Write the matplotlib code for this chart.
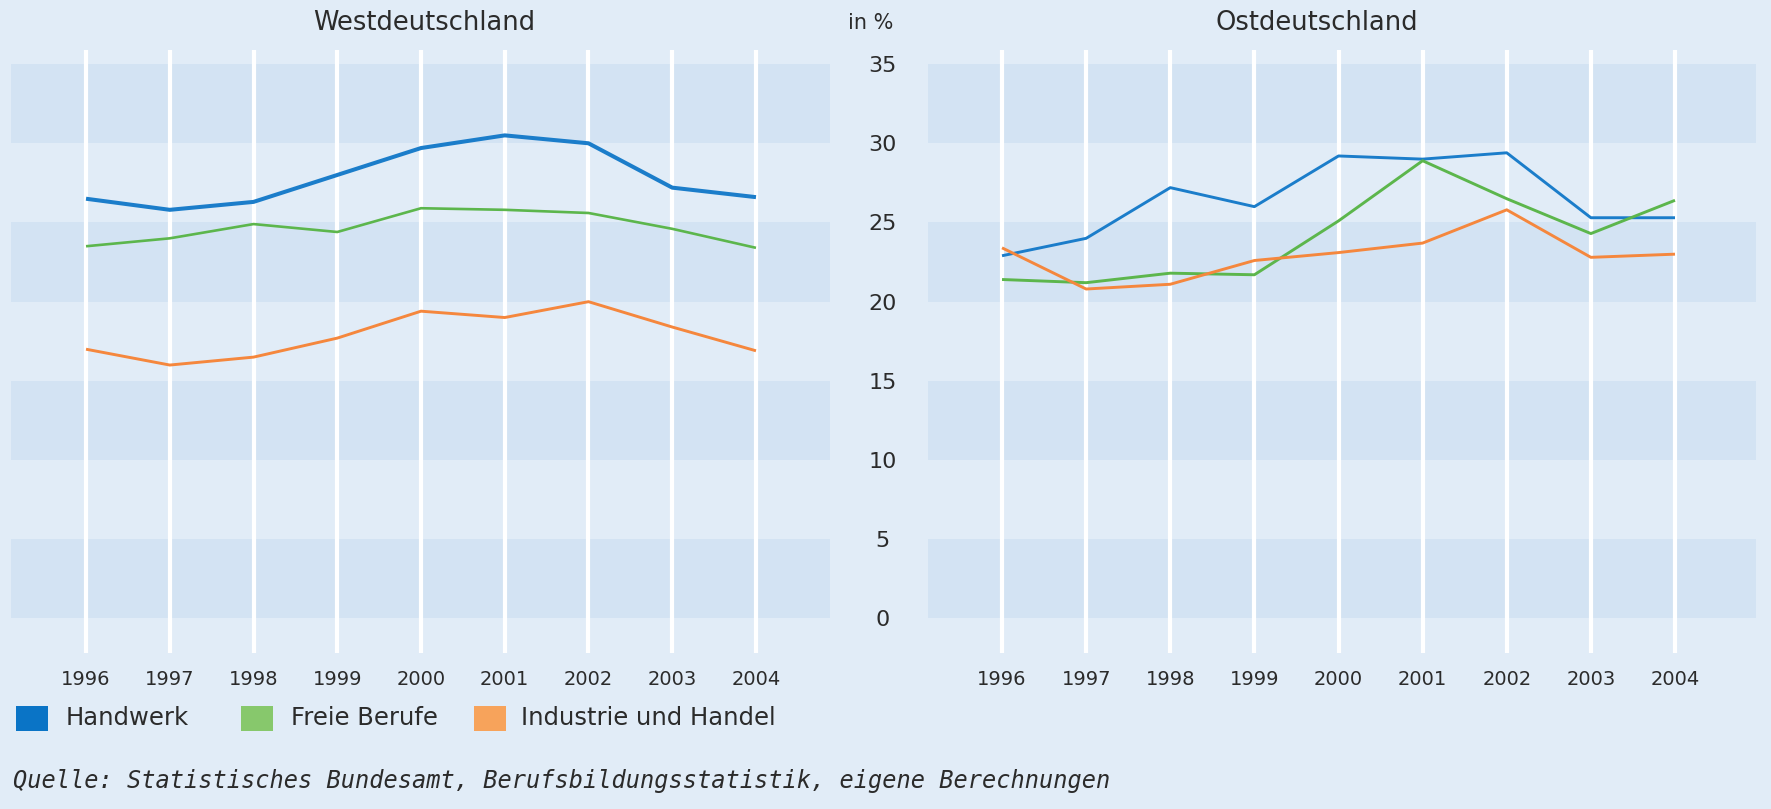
import matplotlib
matplotlib.use("Agg")
import matplotlib.pyplot as plt
from matplotlib.patches import Rectangle

# ---------------- data ----------------
years = [1996, 1997, 1998, 1999, 2000, 2001, 2002, 2003, 2004]
series_names = ["Handwerk", "Freie Berufe", "Industrie und Handel"]

west_handwerk = [26.5, 25.8, 26.3, 28.0, 29.7, 30.5, 30.0, 27.2, 26.6]
west_freie = [23.5, 24.0, 24.9, 24.4, 25.9, 25.8, 25.6, 24.6, 23.4]
west_industrie = [17.0, 16.0, 16.5, 17.7, 19.4, 19.0, 20.0, 18.4, 16.9]

ost_handwerk = [22.9, 24.0, 27.2, 26.0, 29.2, 29.0, 29.4, 25.3, 25.3]
ost_freie = [21.4, 21.2, 21.8, 21.7, 25.1, 28.9, 26.5, 24.3, 26.4]
ost_industrie = [23.4, 20.8, 21.1, 22.6, 23.1, 23.7, 25.8, 22.8, 23.0]

yticks = [0, 5, 10, 15, 20, 25, 30, 35]
titles = ["Westdeutschland", "Ostdeutschland"]
source = "Quelle: Statistisches Bundesamt, Berufsbildungsstatistik, eigene Berechnungen"

# ---------------- style ----------------
W, H = 1771, 809
BG = "#e1ecf7"
BAND = "#d3e3f3"
TXT = "#2b2b2b"
line_cols = ["#1b7dca", "#5cb64c", "#f5873d"]
leg_cols = ["#0a74c6", "#87c86c", "#f7a35b"]

fig = plt.figure(figsize=(W / 100, H / 100), dpi=100, facecolor=BG)


def px_rect(x0, x1, ytop, ybot):
    return [x0 / W, 1 - ybot / H, (x1 - x0) / W, (ybot - ytop) / H]


axW = fig.add_axes(px_rect(11, 830, 50, 653))
axE = fig.add_axes(px_rect(928, 1756, 50, 653))

panels = [
    (axW, [west_handwerk, west_freie, west_industrie], (1995.104, 2004.884), [2.9, 1.9, 2.1]),
    (axE, [ost_handwerk, ost_freie, ost_industrie], (1995.12, 2004.963), [2.1, 2.1, 2.1]),
]

for ax, data, xl, lws in panels:
    ax.set_facecolor("none")
    ax.set_xlim(*xl)
    ax.set_ylim(-2.18, 35.89)
    for s in ax.spines.values():
        s.set_visible(False)
    for lo in range(0, 35, 10):
        ax.axhspan(lo, lo + 5, color=BAND, lw=0, zorder=0)
    for yr in years:
        ax.axvline(yr, color="white", lw=3.0, zorder=1)
    for vals, c, lw in zip(data, line_cols, lws):
        ax.plot(years, vals, color=c, lw=lw, zorder=3, solid_capstyle="butt")
    ax.set_xticks(years)
    ax.set_xticklabels([str(y) for y in years], fontsize=14, color=TXT)
    ax.tick_params(axis="x", length=0, pad=12)
    ax.set_yticks([])

# y tick labels between the panels (on the right side of west axis)
axW.yaxis.tick_right()
axW.set_yticks(yticks)
axW.set_yticklabels([str(v) for v in yticks], fontsize=16, color=TXT)
axW.tick_params(axis="y", length=0, pad=38)
for lab in axW.get_yticklabels():
    lab.set_ha("center")

# titles
fig.text(424 / W, 1 - 23 / H, titles[0], ha="center", va="center", fontsize=18.5, color=TXT)
fig.text(1317 / W, 1 - 23 / H, titles[1], ha="center", va="center", fontsize=18.5, color=TXT)
fig.text(871 / W, 1 - 23 / H, "in %", ha="center", va="center", fontsize=15, color=TXT)

# legend
sq_x = [16, 241, 474]
tx_x = [66, 291, 521]
for name, c, sx, tx in zip(series_names, leg_cols, sq_x, tx_x):
    fig.patches.append(Rectangle((sx / W, 1 - 731 / H), 32 / W, 25 / H,
                                 transform=fig.transFigure, color=c, lw=0))
    fig.text(tx / W, 1 - 718 / H, name, ha="left", va="center", fontsize=17.5, color=TXT)

# source
fig.text(13 / W, 1 - 781 / H, source, ha="left", va="center", fontsize=17,
         family="DejaVu Sans Mono", style="italic", color=TXT)

fig.savefig("out.png", dpi=100, facecolor=BG)
